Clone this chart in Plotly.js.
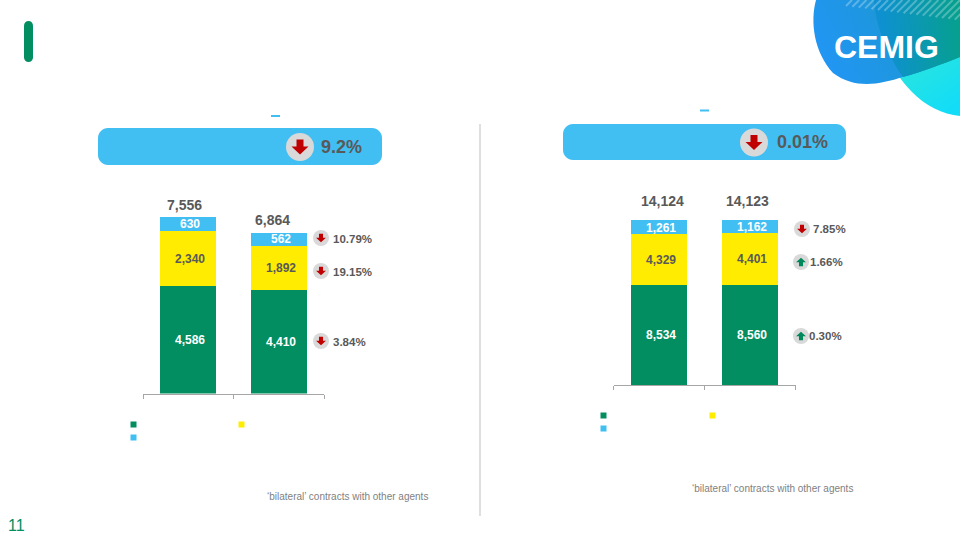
<!DOCTYPE html>
<html>
<head>
<meta charset="utf-8">
<script src="https://cdn.plot.ly/plotly-3.0.1.min.js"></script>
<style>html,body{margin:0;padding:0;background:#fff}#c{width:960px;height:540px}</style>
</head>
<body>
<div id="c"></div>
<script>
// ---- data ----
const categories = ['Period A', 'Period B'];
const leftGreen = [4586, 4410];
const leftYellow = [2340, 1892];
const leftBlue = [630, 562];
const leftTotals = [7556, 6864];
const rightGreen = [8534, 8560];
const rightYellow = [4329, 4401];
const rightBlue = [1261, 1162];
const rightTotals = [14124, 14123];
const leftChangeLabels = ['10.79%', '19.15%', '3.84%'];
const leftChangeDirs = [-1, -1, -1];
const rightChangeLabels = ['7.85%', '1.66%', '0.30%'];
const rightChangeDirs = [-1, 1, 1];
const leftHeadline = '9.2%';
const rightHeadline = '0.01%';
const footnote = '‘bilateral’ contracts with other agents';
const pageNumber = '11';

// ---- styles ----
const GREEN = '#028e61', YELLOW = '#ffec00', BLUE = '#41bef2', GREY = '#595959';
const FONT = '"Liberation Sans", Arial, sans-serif';
const X = p => p / 960, Y = p => 1 - p / 540;

function bars(name, vals, color, xa, ya) {
  return {type: 'bar', name, x: categories, y: vals, xaxis: xa, yaxis: ya, width: 0.615,
    marker: {color, line: {width: 0}}, hoverinfo: 'x+y', showlegend: false};
}
const data = [
  bars('Green', leftGreen, GREEN, 'x', 'y'),
  bars('Yellow', leftYellow, YELLOW, 'x', 'y'),
  bars('Blue', leftBlue, BLUE, 'x', 'y'),
  bars('Green', rightGreen, GREEN, 'x2', 'y2'),
  bars('Yellow', rightYellow, YELLOW, 'x2', 'y2'),
  bars('Blue', rightBlue, BLUE, 'x2', 'y2')
];

const shapes = [], annotations = [];

function rrect(x0, y0, x1, y1, r, fill) {
  const k = 0.45 * r;
  const p = (a, b) => X(a) + ',' + Y(b);
  shapes.push({type: 'path', xref: 'paper', yref: 'paper', fillcolor: fill, line: {width: 0}, layer: 'below',
    path: 'M' + p(x0 + r, y0) + ' L' + p(x1 - r, y0) + ' C' + p(x1 - k, y0) + ' ' + p(x1, y0 + k) + ' ' + p(x1, y0 + r) +
      ' L' + p(x1, y1 - r) + ' C' + p(x1, y1 - k) + ' ' + p(x1 - k, y1) + ' ' + p(x1 - r, y1) +
      ' L' + p(x0 + r, y1) + ' C' + p(x0 + k, y1) + ' ' + p(x0, y1 - k) + ' ' + p(x0, y1 - r) +
      ' L' + p(x0, y0 + r) + ' C' + p(x0, y0 + k) + ' ' + p(x0 + k, y0) + ' ' + p(x0 + r, y0) + ' Z'});
}
function box(x0, y0, x1, y1, fill) {
  shapes.push({type: 'rect', xref: 'paper', yref: 'paper', x0: X(x0), x1: X(x1), y0: Y(y0), y1: Y(y1), fillcolor: fill, line: {width: 0}});
}
function icon(cx, cy, r, dir, s) {
  shapes.push({type: 'circle', xref: 'paper', yref: 'paper', x0: X(cx - r), x1: X(cx + r), y0: Y(cy - r), y1: Y(cy + r), fillcolor: '#d9d9d9', line: {width: 0}});
  const pts = [[-3.5, -7.5], [3.5, -7.5], [3.5, -0.5], [8.5, -0.5], [0, 7.5], [-8.5, -0.5], [-3.5, -0.5]];
  const path = pts.map((q, i) => (i ? 'L' : 'M') + X(cx + q[0] * s) + ',' + Y(cy + q[1] * s * dir * -1)).join(' ') + ' Z';
  shapes.push({type: 'path', xref: 'paper', yref: 'paper', path, fillcolor: dir < 0 ? '#c00000' : '#00875a', line: {width: 0}});
}
function label(text, x, y, size, color, bold, anchor) {
  annotations.push({xref: 'paper', yref: 'paper', x: X(x), y: Y(y), text: bold ? '<b>' + text + '</b>' : text, showarrow: false,
    xanchor: anchor || 'left', yanchor: 'middle', font: {family: FONT, size, color}, borderpad: 0, borderwidth: 0});
}
function barLabels(vals, bases, color, xa, ya, dx, dy) {
  vals.forEach((v, i) => annotations.push({xref: xa, yref: ya, x: categories[i], y: bases[i] + v / 2,
    text: '<b>' + v.toLocaleString('en-US') + '</b>', showarrow: false, xshift: dx, yshift: dy, font: {family: FONT, size: 12, color}}));
}
function stack(xa, ya, g, y, b, dx, dyBlue) {
  barLabels(g, g.map(() => 0), '#ffffff', xa, ya, dx, 0);
  barLabels(y, g, GREY, xa, ya, dx, 0);
  barLabels(b, g.map((v, i) => v + y[i]), '#ffffff', xa, ya, dx, dyBlue);
}
stack('x', 'y', leftGreen, leftYellow, leftBlue, 2, 0);
stack('x2', 'y2', rightGreen, rightYellow, rightBlue, 2, -1);

function totals(vals, xa, ya, shifts, lift) {
  vals.forEach((v, i) => annotations.push({xref: xa, yref: ya, x: categories[i], y: v, text: '<b>' + v.toLocaleString('en-US') + '</b>',
    showarrow: false, xshift: shifts[i], yshift: lift[i], yanchor: 'middle', font: {family: FONT, size: 14, color: GREY}}));
}
totals(leftTotals, 'x', 'y', [-4, -6], [12, 13]);
totals(rightTotals, 'x2', 'y2', [3.5, -3], [19, 19]);

// decoration: accent bar, divider, pills, dashes
rrect(24, 21, 33, 62, 4.5, GREEN);
box(479.5, 124, 480.5, 516, '#bfbfbf');
rrect(98, 128, 382, 165, 10, BLUE);
rrect(563, 124, 846, 160, 10, BLUE);
box(271, 115, 280, 117, BLUE);
box(700, 109.5, 709, 111.5, BLUE);

// headline changes
icon(300, 147, 14, -1, 1);
label(leftHeadline, 321, 147, 18, GREY, true);
icon(754, 142.5, 14, -1, 1);
label(rightHeadline, 777, 142.5, 18, GREY, true);

// per-series changes
[238, 271, 341].forEach((cy, i) => {
  icon(321, cy, 8, leftChangeDirs[i], 0.58);
  label(leftChangeLabels[i], 333, cy + 0.5, 11.5, GREY, true);
});
[[802, 229, 813], [801, 262, 810], [801, 336, 809]].forEach((q, i) => {
  icon(q[0], q[1], 8, rightChangeDirs[i], 0.58);
  label(rightChangeLabels[i], q[2], q[1], 11.5, GREY, true);
});

// legend keys (their labels are blank in the reference)
[[130.5, 421.5, GREEN], [238.5, 421.5, YELLOW], [130.5, 434.5, BLUE],
 [600.5, 412.5, GREEN], [709.5, 412.5, YELLOW], [600.5, 425.5, BLUE]].forEach(q => box(q[0], q[1], q[0] + 6, q[1] + 6, q[2]));

label(footnote, 347.5, 496, 10, '#7f7f7f', false, 'center');
label(footnote, 772, 488, 10, '#7f7f7f', false, 'center');
label(pageNumber, 8, 525.5, 16, GREEN, false);
label('CEMIG', 886, 46.5, 32, '#ffffff', true, 'center');

// logo backdrop
const logo = `<svg xmlns="http://www.w3.org/2000/svg" width="160" height="120" viewBox="0 0 160 120">
<defs>
<linearGradient id="a" x1="0" y1="0.6" x2="1" y2="0.3"><stop offset="0" stop-color="#2196f5"/><stop offset="0.45" stop-color="#1f96e0"/><stop offset="1" stop-color="#0aa596"/></linearGradient>
<linearGradient id="b" x1="0.3" y1="0" x2="0.8" y2="1"><stop offset="0" stop-color="#3cecc8"/><stop offset="1" stop-color="#12dcf8"/></linearGradient>
<linearGradient id="c" x1="0" y1="0.5" x2="1" y2="0.4"><stop offset="0" stop-color="#0f8fd8"/><stop offset="1" stop-color="#06a08e"/></linearGradient>
</defs>
<path d="M74 0 C76 40 92 72 112 92 C126 106 142 114 160 116 L160 0 Z" fill="url(#b)"/>
<path d="M16 0 C10 22 14 52 33 73 C56 90 80 84 103 77 C122 72 142 64 160 57 L160 0 Z" fill="url(#a)"/>
<path d="M74 0 C76 28 88 56 103 77 C122 72 142 64 160 57 L160 0 Z" fill="url(#c)"/>
<g stroke="#ffffff" stroke-opacity="0.28" stroke-width="2">
${[0,1,2,3,4,5,6,7,8,9,10,11,12,13,14,15,16,17,18,19].map(i => {
  const x = 52 + i * 7.2, d = Math.min(20, Math.max(6, 6 + i * 0.8));
  return `<line x1="${x}" y1="0" x2="${x - d}" y2="${d}"/>`;
}).join('')}
</g>
</svg>`;

const axisX = (d) => ({domain: d, type: 'category', categoryorder: 'array', categoryarray: categories, range: [-0.5, 1.5],
  showticklabels: false, ticks: 'outside', tickson: 'boundaries', ticklen: 4, tickwidth: 1, tickcolor: '#a6a6a6',
  showline: true, linecolor: '#a6a6a6', linewidth: 1, showgrid: false, zeroline: false, fixedrange: true});
const axisY = (d, r, an) => ({domain: d, range: [0, r], visible: false, anchor: an, fixedrange: true});

const layout = {
  width: 960, height: 540, autosize: false, margin: {l: 0, r: 0, t: 0, b: 0},
  paper_bgcolor: '#ffffff', plot_bgcolor: 'rgba(0,0,0,0)', barmode: 'stack', showlegend: false,
  font: {family: FONT},
  xaxis: Object.assign(axisX([X(143), X(324)]), {anchor: 'y'}),
  yaxis: axisY([Y(393.5), Y(190)], 203.5 * 42.72, 'x'),
  xaxis2: Object.assign(axisX([X(613.5), X(795.5)]), {anchor: 'y2'}),
  yaxis2: axisY([Y(385), Y(190)], 195 * 85.4, 'x2'),
  shapes, annotations,
  images: [{source: 'data:image/svg+xml;utf8,' + encodeURIComponent(logo), xref: 'paper', yref: 'paper',
    x: X(800), y: 1, sizex: 160 / 960, sizey: 120 / 540, xanchor: 'left', yanchor: 'top', sizing: 'stretch', layer: 'below'}]
};
Plotly.newPlot('c', data, layout, {displayModeBar: false, staticPlot: true});
</script>
</body>
</html>
